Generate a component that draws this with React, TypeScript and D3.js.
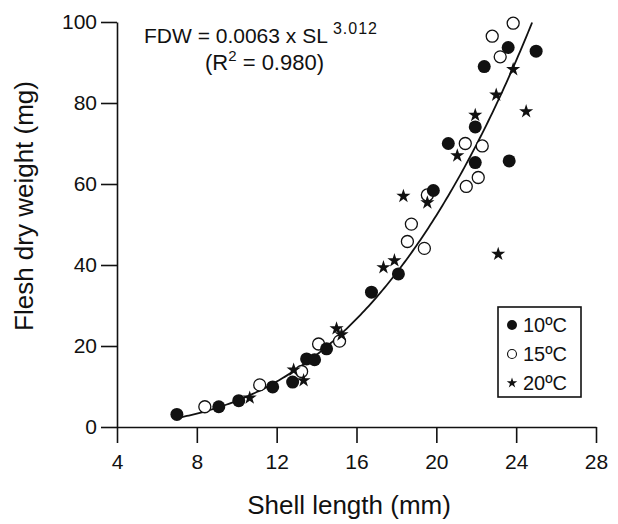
import React, { useRef, useEffect } from "react";
import * as d3 from "d3";

// shell length (mm), flesh dry weight (mg)
const temp10 = [
  [7.0, 3.1], [9.1, 5.0], [10.1, 6.5], [11.8, 9.9], [12.8, 11.1], [13.5, 16.8],
  [13.9, 16.6], [14.5, 19.3], [16.75, 33.3], [18.1, 37.8], [19.85, 58.4], [20.6, 70.0],
  [21.95, 74.1], [21.95, 65.3], [22.4, 89.0], [23.6, 93.7], [23.65, 65.7], [25.0, 92.8],
];
const temp15 = [
  [8.4, 5.0], [11.15, 10.4], [13.25, 13.7], [14.1, 20.5], [15.15, 21.2], [18.55, 45.8],
  [18.75, 50.1], [19.4, 44.1], [19.55, 57.3], [21.5, 59.4], [21.45, 70.0], [22.1, 61.6],
  [22.3, 69.4], [22.8, 96.5], [23.2, 91.4], [23.85, 99.7],
];
const temp20 = [
  [10.65, 7.2], [12.85, 14.1], [13.35, 11.5], [15.0, 24.3], [15.25, 22.8], [17.35, 39.4],
  [17.9, 41.1], [18.35, 57.0], [19.55, 55.4], [21.05, 67.0], [21.95, 77.0], [23.0, 82.0],
  [23.1, 42.7], [23.85, 88.3], [24.5, 77.9],
];

const xTicks = [4, 8, 12, 16, 20, 24, 28];
const yTicks = [0, 20, 40, 60, 80, 100];
const legendLabels = ["10ºC", "15ºC", "20ºC"];

// fitted power curve FDW = a * SL^b
const fitA = 0.0063;
const fitB = 3.012;
const fitStart = 7;
const fitEnd = 24.8;

const font = "'Liberation Sans', Arial, Helvetica, sans-serif";

const App = () => {
  const svgRef = useRef(null);
  const width = 618;
  const height = 524;

  useEffect(() => {
    const svg = d3.select(svgRef.current);
    svg.selectAll("*").remove();

    const x = d3.scaleLinear().domain([4, 28]).range([117, 596]);
    const y = d3.scaleLinear().domain([0, 100]).range([427, 22]);

    // axes
    const xAxis = svg.append("g")
      .attr("transform", `translate(0, ${y(0)})`)
      .call(d3.axisBottom(x).tickValues(xTicks).tickSize(16).tickSizeOuter(0).tickPadding(11));
    const yAxis = svg.append("g")
      .attr("transform", `translate(${x(4)}, 0)`)
      .call(d3.axisLeft(y).tickValues(yTicks).tickSize(16).tickSizeOuter(0).tickPadding(4));

    [xAxis, yAxis].forEach(g => {
      g.selectAll("path, line").attr("stroke", "#111").attr("stroke-width", 1.6);
      g.selectAll("text")
        .attr("fill", "#111")
        .style("font-family", font)
        .style("font-size", "21px");
    });

    // curve
    const curvePts = d3.range(fitStart, fitEnd + 0.001, 0.1).map(v => [v, fitA * Math.pow(v, fitB)]);
    svg.append("path")
      .datum(curvePts)
      .attr("fill", "none")
      .attr("stroke", "#111")
      .attr("stroke-width", 1.8)
      .attr("d", d3.line().x(d => x(d[0])).y(d => y(d[1])));

    const star = d3.symbol().type(d3.symbolStar).size(62);

    // points
    svg.append("g").selectAll("circle")
      .data(temp15)
      .enter()
      .append("circle")
      .attr("cx", d => x(d[0]))
      .attr("cy", d => y(d[1]))
      .attr("r", 6)
      .attr("fill", "white")
      .attr("stroke", "#111")
      .attr("stroke-width", 1.3);

    svg.append("g").selectAll("circle")
      .data(temp10)
      .enter()
      .append("circle")
      .attr("cx", d => x(d[0]))
      .attr("cy", d => y(d[1]))
      .attr("r", 6.5)
      .attr("fill", "#111");

    svg.append("g").selectAll("path")
      .data(temp20)
      .enter()
      .append("path")
      .attr("transform", d => `translate(${x(d[0])}, ${y(d[1])})`)
      .attr("d", star)
      .attr("fill", "#111");

    // equation
    const eq = svg.append("text")
      .attr("x", 144)
      .attr("y", 43)
      .attr("fill", "#111")
      .style("font-family", font)
      .style("font-size", "21px");
    eq.append("tspan").text("FDW = 0.0063 x SL ");
    eq.append("tspan").attr("dy", -9).style("font-size", "16px").attr("letter-spacing", "1px").text("3.012");

    const r2 = svg.append("text")
      .attr("x", 205)
      .attr("y", 70)
      .attr("fill", "#111")
      .style("font-family", font)
      .style("font-size", "22px");
    r2.append("tspan").text("(R");
    r2.append("tspan").attr("dy", -9).style("font-size", "15px").text("2");
    r2.append("tspan").attr("dy", 9).text(" = 0.980)");

    // axis titles
    svg.append("text")
      .attr("x", 349)
      .attr("y", 514)
      .attr("text-anchor", "middle")
      .attr("fill", "#111")
      .style("font-family", font)
      .style("font-size", "26px")
      .text("Shell length (mm)");

    svg.append("text")
      .attr("transform", "translate(33, 206) rotate(-90)")
      .attr("text-anchor", "middle")
      .attr("fill", "#111")
      .style("font-family", font)
      .style("font-size", "26px")
      .text("Flesh dry weight (mg)");

    // legend
    const legend = svg.append("g");
    legend.append("rect")
      .attr("x", 498)
      .attr("y", 307)
      .attr("width", 83)
      .attr("height", 90)
      .attr("fill", "white")
      .attr("stroke", "#111")
      .attr("stroke-width", 1.6);

    const rowY = d3.scalePoint().domain(legendLabels).range([325, 383]);
    legend.append("circle")
      .attr("cx", 512).attr("cy", rowY(legendLabels[0]))
      .attr("r", 5).attr("fill", "#111");
    legend.append("circle")
      .attr("cx", 512).attr("cy", rowY(legendLabels[1]))
      .attr("r", 4.5).attr("fill", "white").attr("stroke", "#111").attr("stroke-width", 1.1);
    legend.append("path")
      .attr("transform", `translate(512, ${rowY(legendLabels[2])})`)
      .attr("d", d3.symbol().type(d3.symbolStar).size(34))
      .attr("fill", "#111");

    legend.selectAll("text")
      .data(legendLabels)
      .enter()
      .append("text")
      .attr("x", 523)
      .attr("y", d => rowY(d))
      .attr("dy", "0.36em")
      .attr("fill", "#111")
      .style("font-family", font)
      .style("font-size", "20px")
      .text(d => d);
  }, []);

  return (
    <svg
      ref={svgRef}
      width={width}
      height={height}
      style={{ position: "absolute", left: 0, top: 0, background: "white" }}
    ></svg>
  );
};

export default App;
